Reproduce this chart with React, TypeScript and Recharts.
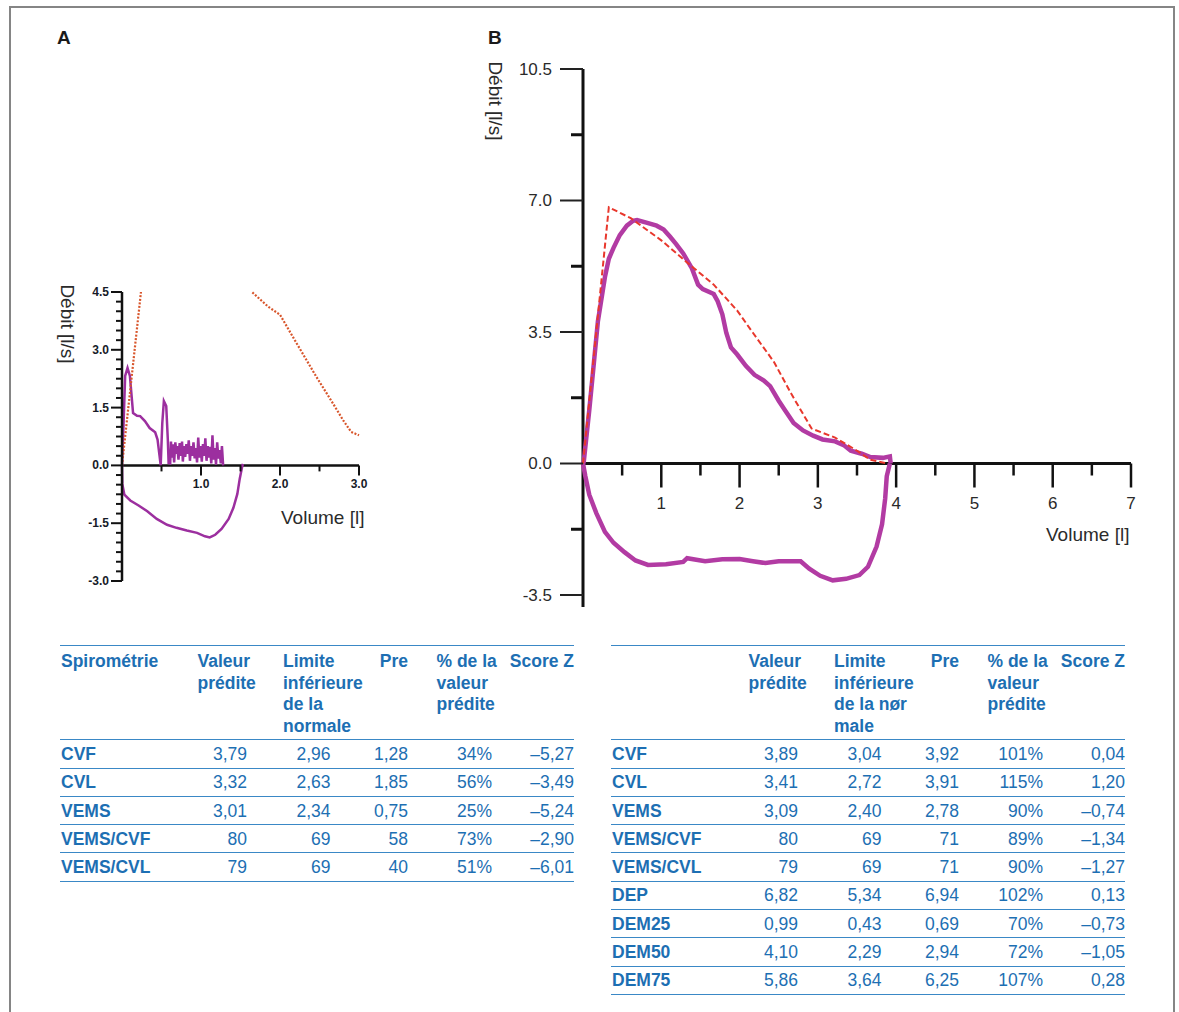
import React from 'react';
import { LineChart, Line, XAxis, YAxis, ReferenceLine, ReferenceDot } from 'recharts';

const FONT = '"Liberation Sans", Arial, Helvetica, sans-serif';
const BLUE = '#1d6fb3';
const LINE_BLUE = '#3a88c6';

// ---------- Chart A (volume [l], flow [l/s]) ----------
const measuredExpA: number[][] = [
  [0, 0], [0.02, 1.1], [0.04, 2.32], [0.07, 2.53], [0.1, 2.32], [0.14, 1.36], [0.19, 1.29],
  [0.23, 1.28], [0.29, 1.15], [0.35, 0.97], [0.42, 0.86], [0.45, 0.67], [0.49, 0], [0.51, 1.1],
  [0.53, 1.67], [0.56, 1.54], [0.58, 0.67], [0.59, 0.06],
  [0.61, 0.05], [0.62, 0.62], [0.63, 0.2], [0.645, 0.55], [0.66, 0.08], [0.675, 0.6], [0.69, 0.3],
  [0.7, 0.5], [0.715, 0.15], [0.73, 0.58], [0.745, 0.25], [0.76, 0.62], [0.77, 0.1], [0.785, 0.5],
  [0.8, 0.22], [0.815, 0.55], [0.83, 0.3], [0.845, 0.65], [0.86, 0.12], [0.875, 0.5], [0.89, 0.25],
  [0.905, 0.6], [0.92, 0.18], [0.935, 0.45], [0.95, 0.08], [0.965, 0.72], [0.98, 0.2], [0.995, 0.5],
  [1.01, 0.1], [1.025, 0.55], [1.04, 0.25], [1.055, 0.7], [1.07, 0.12], [1.085, 0.5], [1.1, 0.2],
  [1.115, 0.48], [1.13, 0.05], [1.145, 0.78], [1.16, 0.15], [1.175, 0.45], [1.19, 0.02], [1.205, 0.6],
  [1.22, 0.18], [1.235, 0.4], [1.25, 0.05], [1.265, 0.5], [1.28, 0],
];
const measuredInspA: number[][] = [
  [0, 0], [0.004, -0.48], [0.03, -0.76], [0.105, -0.91], [0.21, -1.04], [0.32, -1.19], [0.44, -1.39],
  [0.57, -1.54], [0.69, -1.62], [0.82, -1.69], [0.95, -1.75], [1.05, -1.84], [1.11, -1.87],
  [1.18, -1.8], [1.26, -1.65], [1.35, -1.39], [1.41, -1.1], [1.46, -0.74], [1.49, -0.35],
  [1.52, -0.04], [1.53, 0.04],
];
const predictedRiseA: number[][] = [[0, 0], [0.24, 4.5]];
const predictedFallA: number[][] = [
  [1.65, 4.49], [1.85, 4.12], [2.0, 3.91], [2.21, 3.17], [2.46, 2.3], [2.67, 1.61], [2.8, 1.17],
  [2.9, 0.87], [3.0, 0.78],
];
const yTicksA = [
  4.5, 4.25, 4, 3.75, 3.5, 3.25, 3, 2.75, 2.5, 2.25, 2, 1.75, 1.5, 1.25, 1, 0.75, 0.5, 0.25, 0,
  -0.25, -0.5, -0.75, -1, -1.25, -1.5, -1.75, -2, -2.25, -2.5, -2.75, -3,
];
const yLabelsA = [4.5, 3, 1.5, 0, -1.5, -3];
const xTicksA = [0.5, 1, 1.5, 2, 2.5, 3];
const xLabelsA = [1, 2, 3];

// ---------- Chart B ----------
const measuredExpB: number[][] = [
  [0, 0], [0.01, 0.05], [0.04, 0.64], [0.08, 1.42], [0.14, 2.7], [0.19, 3.78], [0.28, 4.96],
  [0.33, 5.45], [0.39, 5.74], [0.47, 6.08], [0.56, 6.33], [0.64, 6.46], [0.69, 6.48], [0.81, 6.41],
  [0.94, 6.33], [1.03, 6.23], [1.11, 6.04], [1.19, 5.84], [1.28, 5.59], [1.39, 5.2], [1.47, 4.76],
  [1.53, 4.64], [1.67, 4.51], [1.72, 4.32], [1.78, 3.97], [1.83, 3.48], [1.89, 3.09], [1.97, 2.9],
  [2.08, 2.6], [2.19, 2.36], [2.31, 2.21], [2.39, 2.06], [2.5, 1.67], [2.58, 1.42], [2.69, 1.08],
  [2.81, 0.88], [2.94, 0.74], [3.06, 0.64], [3.22, 0.59], [3.33, 0.49], [3.42, 0.34], [3.56, 0.26],
  [3.67, 0.17], [3.83, 0.15], [3.92, 0.19], [3.93, 0],
];
const measuredInspB: number[][] = [
  [0, 0], [0.03, -0.34], [0.08, -0.83], [0.17, -1.32], [0.28, -1.82], [0.39, -2.11], [0.53, -2.36],
  [0.67, -2.58], [0.83, -2.7], [1.06, -2.68], [1.28, -2.62], [1.33, -2.52], [1.56, -2.6],
  [1.78, -2.55], [2.0, -2.54], [2.17, -2.6], [2.33, -2.65], [2.5, -2.6], [2.78, -2.6], [2.89, -2.8],
  [3.03, -2.99], [3.19, -3.11], [3.36, -3.07], [3.53, -2.97], [3.64, -2.75], [3.75, -2.21],
  [3.82, -1.62], [3.86, -0.93], [3.88, -0.34], [3.92, 0],
];
const predictedB: number[][] = [
  [0, 0], [0.33, 6.82], [0.61, 6.53], [1.0, 5.94], [1.33, 5.35], [1.67, 4.76], [1.97, 4.07],
  [2.17, 3.48], [2.44, 2.7], [2.67, 1.82], [2.92, 0.93], [3.22, 0.69], [3.5, 0.34], [3.67, 0.1],
  [3.89, 0],
];
const yTicksB = [10.5, 8.75, 7, 5.25, 3.5, 1.75, 0, -1.75, -3.5];
const yLabelsB = [10.5, 7, 3.5, 0, -3.5];
const xTicksB = [0.5, 1, 1.5, 2, 2.5, 3, 3.5, 4, 4.5, 5, 5.5, 6, 6.5, 7];
const xLabelsB = [1, 2, 3, 4, 5, 6, 7];

// ---------- Tables ----------
const headersA: string[][] = [
  ['Spirométrie'], ['Valeur', 'prédite'], ['Limite', 'inférieure', 'de la', 'normale'], ['Pre'],
  ['% de la', 'valeur', 'prédite'], ['Score Z'],
];
const rowLabelsA = ['CVF', 'CVL', 'VEMS', 'VEMS/CVF', 'VEMS/CVL'];
const predValA = ['3,79', '3,32', '3,01', '80', '79'];
const lowerLimitA = ['2,96', '2,63', '2,34', '69', '69'];
const preA = ['1,28', '1,85', '0,75', '58', '40'];
const pctA = ['34%', '56%', '25%', '73%', '51%'];
const zScoreA = ['–5,27', '–3,49', '–5,24', '–2,90', '–6,01'];

const headersB: string[][] = [
  [], ['Valeur', 'prédite'], ['Limite', 'inférieure', 'de la nør', 'male'], ['Pre'],
  ['% de la', 'valeur', 'prédite'], ['Score Z'],
];
const rowLabelsB = ['CVF', 'CVL', 'VEMS', 'VEMS/CVF', 'VEMS/CVL', 'DEP', 'DEM25', 'DEM50', 'DEM75'];
const predValB = ['3,89', '3,41', '3,09', '80', '79', '6,82', '0,99', '4,10', '5,86'];
const lowerLimitB = ['3,04', '2,72', '2,40', '69', '69', '5,34', '0,43', '2,29', '3,64'];
const preB = ['3,92', '3,91', '2,78', '71', '71', '6,94', '0,69', '2,94', '6,25'];
const pctB = ['101%', '115%', '90%', '89%', '90%', '102%', '70%', '72%', '107%'];
const zScoreB = ['0,04', '1,20', '–0,74', '–1,34', '–1,27', '0,13', '–0,73', '–1,05', '0,28'];

const pts = (arr: number[][]) => arr.map(([x, y]) => ({ x, y }));

// ---------- tick renderers ----------
function YTickA(props: any) {
  const { x, y, payload } = props;
  const v = payload.value;
  const major = yLabelsA.includes(v);
  return (
    <g>
      <line x1={x - (major ? 11 : 6)} x2={x} y1={y} y2={y} stroke="#111" strokeWidth={2} />
      {major && (
        <text x={x - 13} y={y} textAnchor="end" dominantBaseline="central" fontSize={12} fontWeight="bold" fill="#161b28" fontFamily={FONT}>
          {v.toFixed(1)}
        </text>
      )}
    </g>
  );
}

function XTickA({ cx, cy, value }: any) {
  const major = xLabelsA.includes(value);
  return (
    <g>
      <line x1={cx} x2={cx} y1={cy} y2={cy + (major ? 10 : 6)} stroke="#111" strokeWidth={2} />
      {major && (
        <text x={cx} y={cy + 19} textAnchor="middle" dominantBaseline="central" fontSize={12} fontWeight="bold" fill="#161b28" fontFamily={FONT}>
          {value.toFixed(1)}
        </text>
      )}
    </g>
  );
}

function YTickB(props: any) {
  const { x, y, payload } = props;
  const v = payload.value;
  const major = yLabelsB.includes(v);
  return (
    <g>
      <line x1={x - (major ? 23 : 12)} x2={x} y1={y} y2={y} stroke={major ? '#222' : '#111'} strokeWidth={major ? 2 : 3} />
      {major && (
        <text x={x - 31} y={y} textAnchor="end" dominantBaseline="central" fontSize={17} fill="#2a2a2a" fontFamily={FONT}>
          {v.toFixed(1)}
        </text>
      )}
    </g>
  );
}

function XTickB({ cx, cy, value }: any) {
  const major = xLabelsB.includes(value);
  return (
    <g>
      <line x1={cx} x2={cx} y1={cy} y2={cy + (major ? 24 : 12)} stroke="#111" strokeWidth={2.5} />
      {major && (
        <text x={cx} y={cy + 40} textAnchor="middle" dominantBaseline="central" fontSize={17} fill="#2a2a2a" fontFamily={FONT}>
          {String(value)}
        </text>
      )}
    </g>
  );
}

function ChartA() {
  return (
    <LineChart width={420} height={620} margin={{ top: 292, right: 61, bottom: 39, left: 92 }}>
      <XAxis type="number" dataKey="x" domain={[0, 3]} hide />
      <YAxis
        type="number"
        domain={[-3, 4.5]}
        ticks={yTicksA}
        interval={0}
        width={30}
        tickSize={0}
        tickMargin={0}
        tickLine={false}
        axisLine={{ stroke: '#111', strokeWidth: 2.5 }}
        tick={(p: any) => <YTickA {...p} />}
      />
      <ReferenceLine y={0} stroke="#111" strokeWidth={2.5} />
      {xTicksA.map((v) => (
        <ReferenceDot key={v} x={v} y={0} r={0} ifOverflow="visible" shape={(p: any) => <XTickA cx={p.cx} cy={p.cy} value={v} />} />
      ))}
      <Line data={pts(measuredInspA)} dataKey="y" type="linear" stroke="#9c2f9f" strokeWidth={2.5} dot={false} isAnimationActive={false} />
      <Line data={pts(measuredExpA)} dataKey="y" type="linear" stroke="#9c2f9f" strokeWidth={2.5} dot={false} isAnimationActive={false} />
      <Line data={pts(predictedRiseA)} dataKey="y" type="linear" stroke="#d8562c" strokeWidth={2.2} strokeDasharray="2 1.6" dot={false} isAnimationActive={false} />
      <Line data={pts(predictedFallA)} dataKey="y" type="linear" stroke="#d8562c" strokeWidth={2.2} strokeDasharray="2 1.6" dot={false} isAnimationActive={false} />
    </LineChart>
  );
}

function ChartB() {
  return (
    <LineChart width={1179} height={630} margin={{ top: 69, right: 48, bottom: 35, left: 543 }}>
      <XAxis type="number" dataKey="x" domain={[0, 7]} hide />
      <YAxis
        type="number"
        domain={[-3.5, 10.5]}
        ticks={yTicksB}
        interval={0}
        width={40}
        tickSize={0}
        tickMargin={0}
        tickLine={false}
        axisLine={false}
        tick={(p: any) => <YTickB {...p} />}
      />
      <ReferenceLine segment={[{ x: 0, y: -3.82 }, { x: 0, y: 10.5 }]} ifOverflow="visible" stroke="#111" strokeWidth={3} />
      <ReferenceLine y={0} stroke="#111" strokeWidth={3} />
      {xTicksB.map((v) => (
        <ReferenceDot key={v} x={v} y={0} r={0} ifOverflow="visible" shape={(p: any) => <XTickB cx={p.cx} cy={p.cy} value={v} />} />
      ))}
      <Line data={pts(measuredInspB)} dataKey="y" type="linear" stroke="#b23ba3" strokeWidth={4.5} dot={false} isAnimationActive={false} />
      <Line data={pts(measuredExpB)} dataKey="y" type="linear" stroke="#b23ba3" strokeWidth={4.5} dot={false} isAnimationActive={false} />
      <Line data={pts(predictedB)} dataKey="y" type="linear" stroke="#e8372c" strokeWidth={2} strokeDasharray="6 3" dot={false} isAnimationActive={false} />
    </LineChart>
  );
}

// ---------- table ----------
const COLS = [
  { hx: 1, hAlign: 'left', vx: 1, vAlign: 'left' },
  { hx: 137.5, hAlign: 'left', vx: 187, vAlign: 'right' },
  { hx: 223, hAlign: 'left', vx: 270.5, vAlign: 'right' },
  { hx: 348, hAlign: 'right', vx: 348, vAlign: 'right' },
  { hx: 376.5, hAlign: 'left', vx: 432, vAlign: 'right' },
  { hx: 514, hAlign: 'right', vx: 514, vAlign: 'right' },
];
const TABLE_W = 514;

function Cell({ x, cy, align, bold, children }: any) {
  const base: React.CSSProperties = {
    position: 'absolute',
    top: cy - 11,
    height: 22,
    lineHeight: '22px',
    fontSize: 17.5,
    fontWeight: bold ? 'bold' : 'normal',
    color: BLUE,
    whiteSpace: 'nowrap',
    fontFamily: FONT,
  };
  if (align === 'right') base.right = TABLE_W - x;
  else base.left = x;
  return <div style={base}>{children}</div>;
}

function SpiroTable({ left, headers, labels, columns }: { left: number; headers: string[][]; labels: string[]; columns: string[][] }) {
  const top = 646;
  const headBottom = 740;
  const rowH = 28.27;
  const hLine = (y: number, k: string) => (
    <div key={k} style={{ position: 'absolute', left: 0, top: y - 0.6, width: TABLE_W, height: 0, borderTop: `1.3px solid ${LINE_BLUE}` }} />
  );
  const out: React.ReactNode[] = [];
  out.push(hLine(top, 'top'));
  out.push(hLine(headBottom, 'hb'));
  headers.forEach((lines, c) =>
    lines.forEach((t, j) =>
      out.push(
        <Cell key={`h${c}-${j}`} x={COLS[c].hx} cy={661 + j * 21.5} align={COLS[c].hAlign} bold>
          {t}
        </Cell>
      )
    )
  );
  labels.forEach((lab, i) => {
    const cy = headBottom + 14 + i * rowH;
    out.push(
      <Cell key={`l${i}`} x={COLS[0].vx} cy={cy} align="left" bold>
        {lab}
      </Cell>
    );
    columns.forEach((col, c) =>
      out.push(
        <Cell key={`v${i}-${c}`} x={COLS[c + 1].vx} cy={cy} align="right">
          {col[i]}
        </Cell>
      )
    );
    out.push(hLine(headBottom + (i + 1) * rowH, `r${i}`));
  });
  return <div style={{ position: 'absolute', left, top: 0, width: TABLE_W, height: 1012 }}>{out}</div>;
}

const axisText: React.CSSProperties = {
  position: 'absolute',
  fontFamily: FONT,
  fontSize: 19,
  color: '#2b2b2b',
  whiteSpace: 'nowrap',
  lineHeight: '22px',
};

export default function App() {
  return (
    <div style={{ position: 'absolute', left: 0, top: 0, width: 1179, height: 1012, overflow: 'hidden', background: '#fff', fontFamily: FONT }}>
      <div
        style={{
          position: 'absolute',
          left: 9,
          top: 6,
          width: 1166,
          height: 1100,
          boxSizing: 'border-box',
          borderLeft: '2px solid #858585',
          borderTop: '2px solid #858585',
          borderRight: '2px solid #858585',
        }}
      />
      <div style={{ position: 'absolute', left: 0, top: 0 }}>
        <ChartB />
      </div>
      <div style={{ position: 'absolute', left: 0, top: 0 }}>
        <ChartA />
      </div>

      <div style={{ ...axisText, left: 57, top: 27, fontSize: 19, fontWeight: 'bold', color: '#1a1a1a' }}>A</div>
      <div style={{ ...axisText, left: 488, top: 27, fontSize: 19, fontWeight: 'bold', color: '#1a1a1a' }}>B</div>

      <div style={{ ...axisText, left: 67, top: 324, transform: 'translate(-50%, -50%) rotate(90deg)' }}>Débit [l/s]</div>
      <div style={{ ...axisText, left: 495, top: 101, transform: 'translate(-50%, -50%) rotate(90deg)' }}>Débit [l/s]</div>
      <div style={{ ...axisText, left: 281, top: 507 }}>Volume [l]</div>
      <div style={{ ...axisText, left: 1046, top: 524 }}>Volume [l]</div>

      <SpiroTable left={60} headers={headersA} labels={rowLabelsA} columns={[predValA, lowerLimitA, preA, pctA, zScoreA]} />
      <SpiroTable left={611} headers={headersB} labels={rowLabelsB} columns={[predValB, lowerLimitB, preB, pctB, zScoreB]} />
    </div>
  );
}
